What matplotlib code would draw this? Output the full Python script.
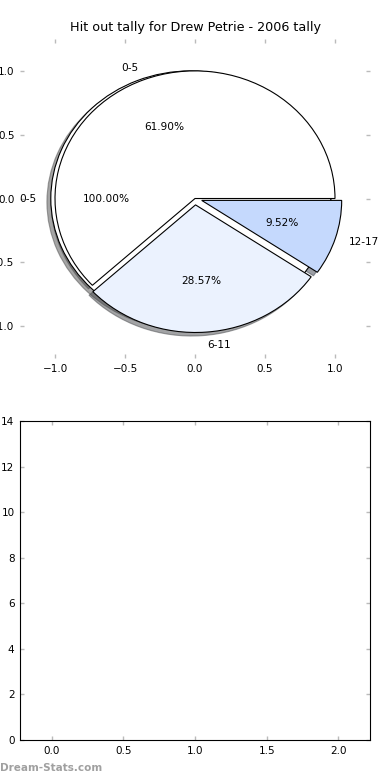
import matplotlib
matplotlib.use('Agg')
import matplotlib.pyplot as plt

title = 'Hit out tally for Drew Petrie - 2006 tally'

# season total, drawn as one full wedge underneath
total_labels = ['0-5']
total_values = [21]

# hit outs per game, grouped in buckets
bucket_labels = ['0-5', '6-11', '12-17']
bucket_values = [13, 6, 2]
bucket_colors = ['white', '#EBF2FE', '#C5D9FD']

pie_ticks = [-1.0, -0.5, 0.0, 0.5, 1.0]
bar_xticks = [0.0, 0.5, 1.0, 1.5, 2.0]
bar_yticks = [0, 2, 4, 6, 8, 10, 12, 14]

fig = plt.figure(figsize=(3.9, 7.8), dpi=100)
ax1 = fig.add_axes([0.0513, 0.541, 0.8974, 0.409])
ax2 = fig.add_axes([0.0513, 0.0513, 0.8974, 0.409])

ax1.pie(total_values, labels=total_labels, colors=['white'], explode=[0.03],
        autopct='%.2f%%', shadow=True, startangle=0,
        wedgeprops={'linewidth': 0.8, 'edgecolor': 'black'},
        textprops={'fontsize': 7.6})
ax1.pie(bucket_values, labels=bucket_labels, colors=bucket_colors,
        explode=[0, 0.05, 0.05], autopct='%.2f%%', shadow=True, startangle=0,
        wedgeprops={'linewidth': 0.8, 'edgecolor': 'black'},
        textprops={'fontsize': 7.6})
ax1.set_aspect('auto')
ax1.set_frame_on(False)
ax1.set_xlim(-1.25, 1.25)
ax1.set_ylim(-1.25, 1.25)
ax1.set_xticks(pie_ticks)
ax1.set_yticks(pie_ticks)
ax1.set_title(title, fontsize=9.2, pad=6)

ax2.set_xlim(-0.22, 2.22)
ax2.set_ylim(0, 14)
ax2.set_xticks(bar_xticks)
ax2.set_yticks(bar_yticks)
for s in ax2.spines.values():
    s.set_linewidth(0.8)

for ax in (ax1, ax2):
    ax.tick_params(direction='in', length=3, width=1, color='#bbbbbb',
                   top=True, right=True, labelsize=7.5, pad=4)

fig.text(0.0, 0.015, 'Dream-Stats.com', color='#a0a0a0', fontsize=7.5,
         fontweight='bold', ha='left', va='center')

fig.savefig('out.png', dpi=100)
